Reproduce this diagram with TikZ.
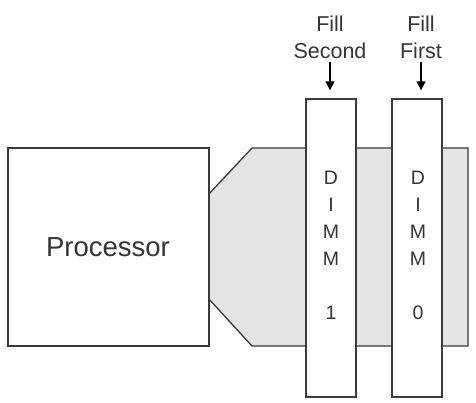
\documentclass[tikz,border=0pt]{standalone}
\usepackage{fontspec}
\setmainfont{Liberation Sans}
\usetikzlibrary{arrows.meta}
\definecolor{ln}{HTML}{3A3A3A}
\definecolor{tx}{HTML}{353535}
\definecolor{bus}{HTML}{E4E4E4}
\begin{document}
\begin{tikzpicture}[x=1pt,y=-1pt,
  box/.style={draw=ln,line width=1.3pt,fill=white,inner sep=0pt},
  lbl/.style={text=tx,align=center,font=\fontsize{21.5}{27}\selectfont,inner sep=0pt},
  dimmtxt/.style={text=tx,align=center,font=\fontsize{19.5}{27}\selectfont,inner sep=0pt},
  arr/.style={draw=black,line width=1.3pt,-{Triangle[length=9pt,width=9pt]}}]
\useasboundingbox (0,0) rectangle (476,403);
% bus
\draw[draw=ln,line width=1.3pt,fill=bus] (208,195) -- (252,148) -- (468,148) -- (468,346) -- (252,346) -- (208,298) -- cycle;
% processor
\node[box,minimum width=201pt,minimum height=198pt] (proc) at (108.5,247) {};
\node[text=tx,font=\fontsize{27.5}{30}\selectfont] (proctxt) at (108,247) {Processor};
% DIMMs
\node[box,minimum width=50pt,minimum height=298pt] (d1) at (331,248) {};
\node[box,minimum width=50pt,minimum height=298pt] (d0) at (417,248) {};
\node[dimmtxt,anchor=north] (d1t) at (331,171) {D\\I\\M\\M\\[27pt]1};
\node[dimmtxt,anchor=north] (d0t) at (418,171) {D\\I\\M\\M\\[27pt]0};
% labels
\node[lbl] (l1) at (330,37) {Fill\\Second};
\node[lbl] (l0) at (421,37) {Fill\\First};
\coordinate (a1) at (330,62);
\coordinate (a0) at (421,62);
\draw[arr] (a1) -- ([xshift=-1pt,yshift=8pt]d1.north);
\draw[arr] (a0) -- ([xshift=4pt,yshift=8pt]d0.north);
\end{tikzpicture}
\end{document}
